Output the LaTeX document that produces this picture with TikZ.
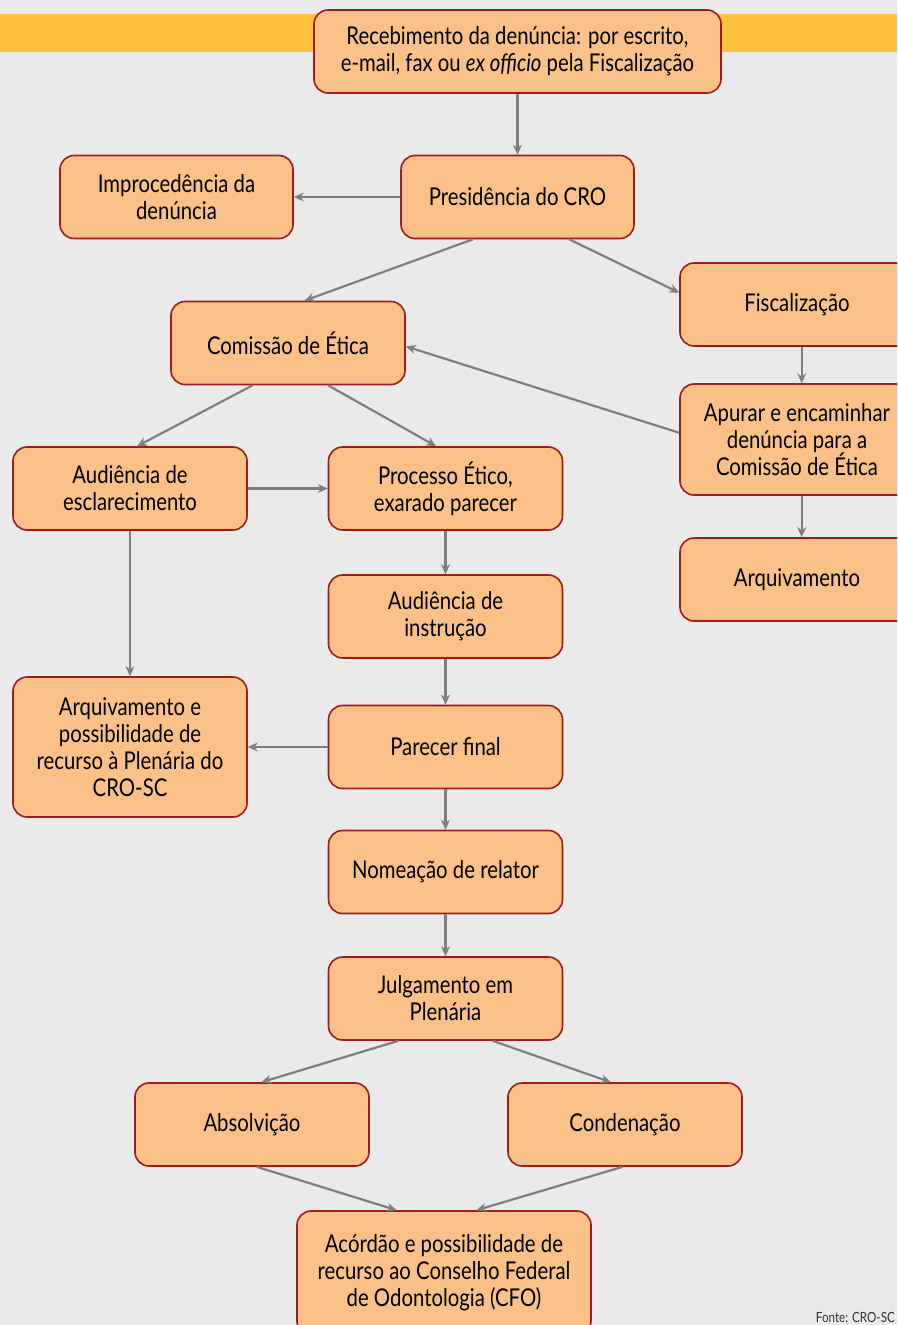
\documentclass[tikz,border=0pt]{standalone}
\usepackage{fontspec}
\setmainfont[FakeStretch=0.83]{Lato}
\usetikzlibrary{arrows.meta,calc}
\definecolor{bgc}{HTML}{EAEAEA}
\definecolor{barc}{HTML}{FFC23F}
\definecolor{boxc}{HTML}{F9C087}
\definecolor{edgec}{HTML}{A01C1C}
\definecolor{arrc}{HTML}{7F7F7F}
\tikzset{
  box/.style={draw=edgec, line width=1.6pt, fill=boxc, rounded corners=14pt,
    minimum width=234pt, minimum height=83pt, align=center, inner sep=2pt,
    font=\fontsize{24.5}{27}\selectfont, text=black},
  arr/.style={draw=arrc, line width=2.2pt, -{Stealth[length=10pt,width=9pt]}},
}
\begin{document}
\begin{tikzpicture}[x=1pt,y=-1pt]
\clip (0,0) rectangle (897,1325);
\fill[bgc] (0,0) rectangle (897,1325);
\fill[barc] (0,14) rectangle (897,52);
% nodes
\node[box, minimum width=407pt] (rec) at (517.5,51.5) {Recebimento da denúncia: por escrito,\\e-mail, fax ou \textit{ex officio} pela Fiscalização};
\node[box, minimum width=233pt] (pres) at (517.5,197) {Presidência do CRO};
\node[box, minimum width=233pt] (imp) at (176.5,197) {Improcedência da\\denúncia};
\node[box] (com) at (288,343) {Comissão de Ética};
\node[box] (fis) at (797,304.5) {Fiscalização};
\node[box, minimum height=111pt] (apu) at (797,439.5) {Apurar e encaminhar\\denúncia para a\\Comissão de Ética};
\node[box] (arq) at (797,579.5) {Arquivamento};
\node[box] (aud) at (130,488.5) {Audiência de\\esclarecimento};
\node[box] (pro) at (445.5,488.5) {Processo Ético,\\exarado parecer};
\node[box] (ins) at (445.5,616.5) {Audiência de\\instrução};
\node[box, minimum height=140pt] (arqr) at (130,747) {Arquivamento e\\possibilidade de\\recurso à Plenária do\\CRO-SC};
\node[box] (par) at (445.5,747) {Parecer final};
\node[box] (nom) at (445.5,872) {Nomeação de relator};
\node[box] (jul) at (445.5,998.5) {Julgamento em\\Plenária};
\node[box] (abs) at (252,1124.5) {Absolvição};
\node[box] (con) at (625,1124.5) {Condenação};
\node[box, minimum width=294pt, minimum height=124pt] (aco) at (444,1273) {Acórdão e possibilidade de\\recurso ao Conselho Federal\\de Odontologia (CFO)};
\node[anchor=base east, font=\fontsize{14}{16}\selectfont, text=black!80, inner sep=0pt] (fonte) at (895,1322) {Fonte: CRO-SC};
% connectors
\draw[arr] (rec.south) -- (pres.north);
\draw[arr] (pres.west) -- (imp.east);
\draw[arr] ($(pres.south west)!0.31!(pres.south east)$) -- ($(com.north west)!0.57!(com.north east)$);
\draw[arr] ($(pres.south west)!0.72!(pres.south east)$) -- ($(fis.north west)!0.36!(fis.south west)$);
\draw[arr] ($(fis.south west)!0.52!(fis.south east)$) -- ($(apu.north west)!0.52!(apu.north east)$);
\draw[arr] ($(apu.north west)!0.44!(apu.south west)$) -- ($(com.north east)!0.54!(com.south east)$);
\draw[arr] ($(apu.south west)!0.52!(apu.south east)$) -- ($(arq.north west)!0.52!(arq.north east)$);
\draw[arr] ($(com.south west)!0.35!(com.south east)$) -- ($(aud.north west)!0.53!(aud.north east)$);
\draw[arr] ($(com.south west)!0.67!(com.south east)$) -- ($(pro.north west)!0.46!(pro.north east)$);
\draw[arr] (aud.east) -- (pro.west);
\draw[arr] (aud.south) -- (arqr.north);
\draw[arr] (pro.south) -- (ins.north);
\draw[arr] (ins.south) -- (par.north);
\draw[arr] (par.west) -- (arqr.east);
\draw[arr] (par.south) -- (nom.north);
\draw[arr] (nom.south) -- (jul.north);
\draw[arr] ($(jul.south west)!0.30!(jul.south east)$) -- ($(abs.north west)!0.54!(abs.north east)$);
\draw[arr] ($(jul.south west)!0.70!(jul.south east)$) -- ($(con.north west)!0.44!(con.north east)$);
\draw[arr] ($(abs.south west)!0.52!(abs.south east)$) -- ($(aco.north west)!0.34!(aco.north east)$);
\draw[arr] ($(con.south west)!0.49!(con.south east)$) -- ($(aco.north west)!0.61!(aco.north east)$);
\end{tikzpicture}
\end{document}
